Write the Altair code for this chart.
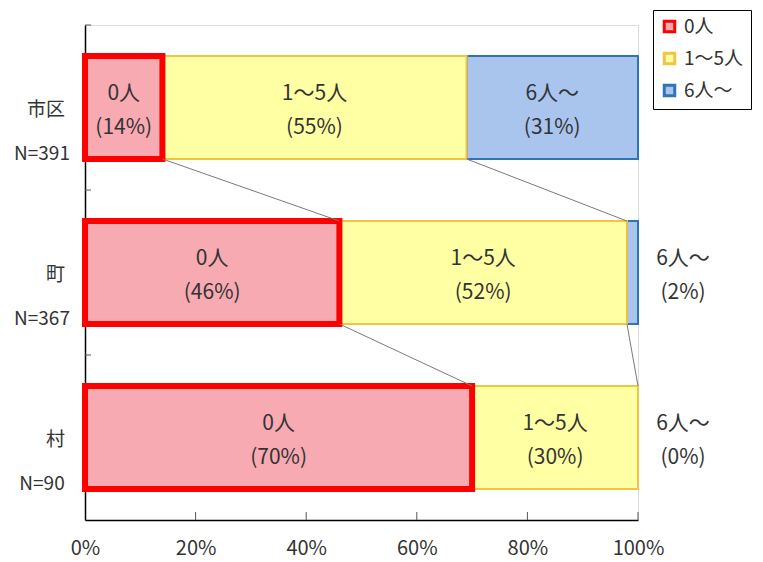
import altair as alt
import pandas as pd

categories = ["市区", "町", "村"]
sample_n = [391, 367, 90]
groups = ["0人", "1～5人", "6人～"]
pct_shiku = [14, 55, 31]
pct_machi = [46, 52, 2]
pct_mura = [70, 30, 0]
x_ticks = [0, 20, 40, 60, 80, 100]
y_ticks = [0, 1, 2]

fills = ["#F8AAB2", "#FFFFA3", "#A9C5EE"]
strokes = ["#FF0000", "#F2C443", "#2F74B5"]

FONT = "Noto Sans CJK JP"
TXT = "#333333"
W, H = 553, 495

pcts = [pct_shiku, pct_machi, pct_mura]
rows = []
cums = []
for i, (cat, n, p) in enumerate(zip(categories, sample_n, pcts)):
    cum = 0
    rc = []
    for k, (g, v) in enumerate(zip(groups, p)):
        rows.append(dict(cat=cat, idx=i, group=g, gorder=k, pct=v, x0=cum, x1=cum + v,
                         mid=cum + v / 2, label=f"{g}\n({v}%)",
                         y0=i + 0.188, y1=i + 0.812, yc=i + 0.5,
                         nlab=f"N={n}"))
        cum += v
        rc.append(cum)
    cums.append(rc)
df = pd.DataFrame(rows)

bars_df = df[df.pct > 0].sort_values(["gorder"], ascending=False)
zero_df = df[df.gorder == 0]
inside_df = df[df.pct >= 5]
outside_df = df[df.pct < 5]
cat_df = df[df.gorder == 0]

conn = []
for i in range(len(categories) - 1):
    for k in range(2):
        conn.append(dict(x0=cums[i][k], x1=cums[i + 1][k], y0=i + 0.812, y1=i + 1 + 0.188))
conn_df = pd.DataFrame(conn)

xscale = alt.Scale(domain=[0, 100], nice=False, zero=False)
yscale = alt.Scale(domain=[0, 3], reverse=True, nice=False, zero=False)

xaxis = alt.Axis(values=x_ticks, format="d", labelExpr="datum.value + '%'",
                 ticks=False, grid=False, title=None, domainColor="black",
                 domainWidth=1.5, labelFontSize=20, labelColor=TXT,
                 labelFont=FONT, labelPadding=18, labelFlush=False)
yaxis = alt.Axis(labels=False, ticks=False, grid=False, title=None,
                 domainColor="black", domainWidth=1.5)

X = lambda f: alt.X(f, scale=xscale, axis=xaxis, title=None)
Y = lambda f: alt.Y(f, scale=yscale, axis=yaxis, title=None)

bars = alt.Chart(bars_df).mark_bar(strokeWidth=2).encode(
    x=X("x0:Q"),
    x2="x1:Q",
    y=Y("y0:Q"),
    y2="y1:Q",
    fill=alt.Fill("group:N", scale=alt.Scale(domain=groups, range=fills),
                  legend=alt.Legend(title=None, orient="none", legendX=568, legendY=-15,
                                    symbolType="square", symbolSize=110,
                                    symbolStrokeWidth=3, labelFontSize=19,
                                    labelFont=FONT, labelColor=TXT, rowPadding=9,
                                    padding=7, strokeColor="black",
                                    fillColor="white", labelOffset=5)),
    stroke=alt.Stroke("group:N", scale=alt.Scale(domain=groups, range=strokes)),
    order=alt.Order("gorder:Q", sort="descending"),
)

zero_outline = alt.Chart(zero_df).mark_bar(fillOpacity=0, stroke=strokes[0], strokeWidth=6).encode(
    x=X("x0:Q"),
    x2="x1:Q",
    y=Y("y0:Q"),
    y2="y1:Q",
)

connectors = alt.Chart(conn_df).mark_rule(color="#7a7a7a", strokeWidth=1).encode(
    x=X("x0:Q"),
    x2="x1:Q",
    y=Y("y0:Q"),
    y2="y1:Q",
)

inside = alt.Chart(inside_df).mark_text(
    font=FONT, fontSize=21, color=TXT, lineBreak="\n", lineHeight=34,
    baseline="middle", align="center", dy=-14
).encode(
    x=X("mid:Q"),
    y=Y("yc:Q"),
    text="label:N",
)

outside = alt.Chart(outside_df).mark_text(
    font=FONT, fontSize=21, color=TXT, lineBreak="\n", lineHeight=34,
    baseline="middle", align="center", dy=-14
).encode(
    x=alt.value(W + 45),
    y=Y("yc:Q"),
    text="label:N",
)

cat_lab = alt.Chart(cat_df).mark_text(
    font=FONT, fontSize=19, color=TXT, align="right", baseline="middle", dy=2
).encode(
    x=alt.value(-20),
    y=Y("yc:Q"),
    text="cat:N",
)

n_lab = alt.Chart(cat_df).mark_text(
    font=FONT, fontSize=19, color=TXT, align="center", baseline="middle", dy=46
).encode(
    x=alt.value(-43),
    y=Y("yc:Q"),
    text="nlab:N",
)

xt = alt.Chart(pd.DataFrame({"x0": x_ticks[1:]})).mark_rule(color="#555555", strokeWidth=1).encode(
    x=X("x0:Q"),
    y=alt.value(H),
    y2=alt.value(H - 8),
)

yt = alt.Chart(pd.DataFrame({"y0": y_ticks})).mark_rule(color="#555555", strokeWidth=1).encode(
    y=Y("y0:Q"),
    x=alt.value(0),
    x2=alt.value(6),
)

chart = alt.layer(bars, zero_outline, connectors, inside, outside, cat_lab, n_lab, xt, yt).properties(
    width=W, height=H,
    autosize=alt.AutoSizeParams(type="none"),
    padding={"left": 85, "top": 25, "right": 125, "bottom": 42},
).configure_view(strokeWidth=0).configure(background="white")

chart.save("out.html", embed_options={"renderer": "svg", "actions": False})
